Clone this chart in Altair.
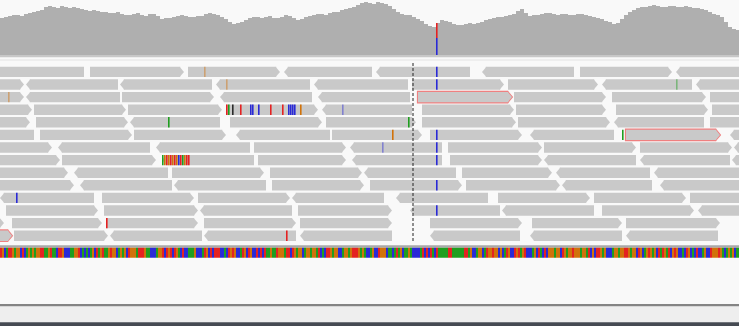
import altair as alt
import pandas as pd

# Genomic window (bp relative to the locus start) spread over the track width
window = [0, 369.5]
marker_pos = 206.5          # dashed position marker

# Coverage depth, sampled every 2 bp
coverage_pos = list(range(0, 370, 2))
coverage_depth = [37, 38, 39, 40, 40, 39, 41, 42, 43, 44, 45, 48, 49, 48, 47, 49, 48, 47, 48, 47,
                  46, 45, 44, 45, 44, 43, 43, 42, 42, 43, 41, 40, 40, 41, 42, 40, 39, 41, 41, 39,
                  36, 37, 37, 38, 39, 40, 39, 38, 38, 39, 39, 41, 42, 41, 40, 38, 36, 33, 31, 32,
                  33, 35, 37, 38, 38, 37, 38, 39, 37, 37, 38, 40, 39, 37, 35, 36, 38, 39, 40, 41,
                  41, 40, 42, 43, 43, 45, 46, 47, 48, 50, 52, 53, 52, 51, 53, 52, 51, 49, 46, 43,
                  41, 40, 40, 38, 36, 34, 31, 29, 28, 32, 35, 34, 33, 31, 30, 30, 31, 32, 31, 32,
                  33, 35, 36, 37, 38, 38, 39, 40, 41, 44, 46, 42, 39, 40, 40, 41, 42, 42, 41, 40,
                  41, 41, 40, 40, 41, 41, 40, 39, 38, 37, 36, 34, 33, 31, 32, 36, 40, 43, 45, 47,
                  48, 48, 49, 50, 49, 48, 48, 49, 49, 48, 48, 49, 48, 47, 47, 46, 45, 43, 41, 40,
                  38, 33, 28, 26, 25]

# Allele counts at the variant site
snv_pos = 218
snv_bases = ["C", "T"]
snv_counts = [17, 15]

# Packed alignments: (start, end, strand) per pileup row
row_00 = [(-4, 42, "-"), (45, 92, "+"), (94, 140, "+"), (142, 186, "-"), (188, 235, "-"), (241, 287, "-"), (290, 336, "+"), (338, 384, "-")]
row_01 = [(-34, 12, "+"), (13, 59, "-"), (60, 106, "-"), (108, 155, "-"), (157, 204, "-"), (206, 252, "+"), (254, 299, "+"), (301, 346, "-"), (348, 394, "-")]
row_02 = [(-34, 12, "+"), (13, 60, "-"), (61, 107, "+"), (110, 156, "-"), (159, 205, "-"), (209, 256, "+"), (257, 303, "+"), (306, 353, "+"), (355, 401, "+")]
row_03 = [(-30, 16, "+"), (17, 63, "+"), (64, 111, "+"), (113, 159, "+"), (161, 206, "-"), (211, 257, "+"), (258, 303, "+"), (308, 354, "+"), (356, 402, "+")]
row_04 = [(-32, 15, "+"), (18, 64, "+"), (65, 110, "-"), (115, 161, "+"), (163, 208, "+"), (211, 258, "+"), (259, 305, "+"), (307, 352, "-"), (355, 401, "+")]
row_05 = [(-29, 17, "-"), (20, 66, "+"), (67, 113, "+"), (118, 165, "-"), (166, 211, "+"), (215, 261, "+"), (265, 307, "-"), (313, 360, "+"), (365, 411, "-")]
row_06 = [(-20, 26, "+"), (29, 75, "-"), (78, 125, "-"), (127, 173, "+"), (175, 221, "-"), (224, 271, "+"), (272, 318, "+"), (320, 366, "+"), (367, 413, "-")]
row_07 = [(-16, 30, "+"), (31, 78, "+"), (81, 127, "-"), (129, 173, "+"), (176, 221, "-"), (225, 271, "+"), (272, 318, "-"), (320, 365, "-"), (366, 412, "-")]
row_08 = [(-12, 34, "+"), (37, 84, "-"), (86, 132, "+"), (135, 181, "+"), (182, 228, "-"), (231, 276, "+"), (278, 325, "-"), (327, 373, "-")]
row_09 = [(-9, 37, "+"), (40, 86, "-"), (87, 133, "-"), (136, 182, "+"), (185, 231, "+"), (233, 280, "+"), (281, 326, "-"), (330, 376, "-")]
row_10 = [(0, 47, "-"), (51, 97, "+"), (99, 145, "+"), (146, 192, "-"), (198, 244, "-"), (249, 295, "+"), (297, 343, "+"), (345, 391, "+")]
row_11 = [(3, 49, "+"), (52, 99, "+"), (100, 146, "-"), (149, 196, "+"), (205, 250, "-"), (251, 297, "-"), (301, 347, "+"), (349, 395, "-")]
row_12 = [(-44, 2, "+"), (6, 51, "+"), (53, 99, "+"), (102, 148, "+"), (150, 196, "+"), (215, 261, "+"), (266, 311, "+"), (313, 360, "+")]
row_13 = [(-40, 6, "+"), (7, 54, "+"), (55, 101, "-"), (102, 148, "-"), (150, 196, "-"), (215, 260, "-"), (265, 311, "-"), (313, 359, "-")]
pileup = [row_00, row_01, row_02, row_03, row_04, row_05, row_06, row_07,
          row_08, row_09, row_10, row_11, row_12, row_13]

# Reads flagged with an outline (row, start)
flagged_reads = [(2, 209), (5, 313), (13, -40)]

# Mismatching bases: row, position, base, low quality
mm_row = [0, 0, 1, 1, 1, 2,
          3, 3, 3, 3, 3, 3, 3, 3, 3, 3, 3, 3, 3, 3, 3,
          4, 4, 5, 5, 5, 6, 6,
          7, 7, 7, 7, 7, 7, 7, 7, 7, 7, 7, 7, 7, 7, 7,
          9, 10, 11, 12, 13]
mm_pos = [102, 218, 113, 218, 338, 4,
          113, 114, 116, 120, 125, 126, 129, 135, 141, 144, 145, 146, 147, 150, 171,
          84, 204, 196, 218, 311, 191, 218,
          81, 82, 83, 84, 85, 86, 87, 88, 89, 90, 91, 92, 93, 94, 218,
          218, 8, 218, 53, 143]
mm_base = ["G", "C", "G", "C", "A", "G",
           "T", "A", "N", "T", "C", "C", "C", "T", "T", "C", "C", "C", "C", "G", "C",
           "A", "A", "G", "C", "A", "C", "C",
           "A", "G", "T", "G", "T", "G", "T", "G", "C", "T", "A", "G", "T", "T", "C",
           "C", "C", "C", "T", "T"]
mm_lowq = [1, 0, 1, 0, 1, 1,
           0, 0, 0, 0, 0, 0, 0, 0, 0, 0, 0, 0, 0, 0, 1,
           0, 0, 0, 0, 0, 1, 0,
           0, 0, 0, 0, 0, 0, 0, 0, 0, 0, 0, 0, 0, 0, 0,
           0, 0, 0, 0, 0]

# Reference sequence across the window
reference = ("TGCATTGAGGCTCAGAGAGGTTAAGTAACTTGCCCAAGGTCACACAGCTA"
             "GTAAGTGGCAGAGCTGGGATTTGAACCCAGGTCTGTCTGACTCCAAAGCC"
             "CATGCTCTTTCCACTGTGCCATGCTGCCTCTCTAAGAATGGGATTCTGAG"
             "GCAGGAGGATCACTTGAGGCCAGGAGTTTGAGACCAGCCTGGGCAACATA"
             "GCAAGACCCCATCTCTACTAAAAATTAAAAAATTAGCCAGGCATGGTGGC"
             "GCATGCCTGTAGTCCCAGCTACTCGGGAGGCTGAGGTGGGAGGATCGCTT"
             "GAGCCCAGGAGGTTGAGGCTGCAGTGAGCTATGATCGTGCCACTGCACTC"
             "CAGCCTGGGTGACAGAGCAA")

BASE_COLORS = {"A": "#1f9e1f", "C": "#2a2ad6", "G": "#d1720a", "T": "#e42222", "N": "#2b2b2b"}
READ_GREY = "#c9c9c9"
COVER_GREY = "#afafaf"
OUTLINE_RED = "#ef8080"
TIP = 2.2          # arrowhead length in bp
FILL = 0.825       # share of the row pitch covered by a read
W, H = 739, 326

RIGHT_TIP = "M-0.42,-1L0.42,0L-0.42,1Z"
LEFT_TIP = "M0.42,-1L-0.42,0L0.42,1Z"

# ---------- tables ----------
recs = []
for r, row in enumerate(pileup):
    for s, e, st in row:
        fwd = st == "+"
        recs.append({
            "row": r, "start": s, "end": e, "strand": st,
            "flag": (r, s) in flagged_reads,
            "bx": s if fwd else s + TIP - 0.3,
            "bx2": e - TIP + 0.3 if fwd else e,
            "tip": e - TIP / 2 if fwd else s + TIP / 2,
            "y": r, "y2": r + FILL, "ym": r + FILL / 2,
        })
reads = pd.DataFrame(recs)
flagged = reads[reads["flag"]].copy()
flagged["ox"] = flagged["bx"] - flagged["strand"].map({"+": 0.55, "-": 0.0})
flagged["ox2"] = flagged["bx2"] + flagged["strand"].map({"+": 0.0, "-": 0.55})
flagged["otip"] = flagged["tip"] + flagged["strand"].map({"+": 0.37, "-": -0.37})
flagged["oy"] = flagged["y"] - 0.09
flagged["oy2"] = flagged["y2"] + 0.09

cov = pd.DataFrame({"pos": coverage_pos + [370], "depth": coverage_depth + [coverage_depth[-1]]})

snv_lo, snv_hi, acc = [], [], 0
for c in snv_counts:
    snv_lo.append(acc)
    acc += c
    snv_hi.append(acc)
snv = pd.DataFrame({"pos": snv_pos, "x2": snv_pos + 0.8, "base": snv_bases,
                    "lo": snv_lo, "hi": snv_hi,
                    "color": [BASE_COLORS[b] for b in snv_bases]})

mm = pd.DataFrame({"row": mm_row, "pos": mm_pos, "base": mm_base, "lowq": mm_lowq})
mm["x2"] = mm["pos"] + 0.8
mm["y2"] = mm["row"] + FILL
mm["color"] = mm["base"].map(BASE_COLORS)
mm["alpha"] = mm["lowq"].map({0: 1.0, 1: 0.45})

ref = pd.DataFrame({"pos": range(len(reference)), "base": list(reference)})
ref["x2"] = ref["pos"] + 1
ref["color"] = ref["base"].map(BASE_COLORS)

marker = pd.DataFrame({"pos": [marker_pos]})
one = pd.DataFrame({"k": [0]})

# ---------- scales ----------
X = alt.Scale(domain=window, nice=False, zero=False)
ROWS = alt.Scale(domain=[0, 14], range=[66.7, 243.1], nice=False, zero=False)
COV = alt.Scale(domain=[0, 55], range=[55, 0], nice=False, zero=False)
TIPS = alt.Scale(domain=["+", "-"], range=[RIGHT_TIP, LEFT_TIP])


def band(y0, y1, color):
    return alt.Chart(one).mark_rect(color=color).encode(
        x=alt.value(0), x2=alt.value(W), y=alt.value(y0), y2=alt.value(y1))


coverage = alt.Chart(cov).mark_area(interpolate="step-after", color=COVER_GREY, clip=True).encode(
    x=alt.X("pos:Q", scale=X, axis=None),
    y=alt.Y("depth:Q", scale=COV, axis=None))

snv_bar = alt.Chart(snv).mark_rect().encode(
    x=alt.X("pos:Q", scale=X, axis=None), x2="x2:Q",
    y=alt.Y("lo:Q", scale=COV, axis=None), y2="hi:Q",
    color=alt.Color("color:N", scale=None))

outline_body = alt.Chart(flagged).mark_rect(color=OUTLINE_RED, clip=True).encode(
    x=alt.X("ox:Q", scale=X, axis=None), x2="ox2:Q",
    y=alt.Y("oy:Q", scale=ROWS, axis=None), y2="oy2:Q")

outline_tip = alt.Chart(flagged).mark_point(filled=True, size=162, opacity=1, strokeWidth=0,
                                             color=OUTLINE_RED, clip=True).encode(
    x=alt.X("otip:Q", scale=X, axis=None),
    y=alt.Y("ym:Q", scale=ROWS, axis=None),
    shape=alt.Shape("strand:N", scale=TIPS, legend=None))

read_body = alt.Chart(reads).mark_rect(color=READ_GREY, clip=True).encode(
    x=alt.X("bx:Q", scale=X, axis=None), x2="bx2:Q",
    y=alt.Y("y:Q", scale=ROWS, axis=None), y2="y2:Q")

read_tip = alt.Chart(reads).mark_point(filled=True, size=108, opacity=1, strokeWidth=0,
                                       color=READ_GREY, clip=True).encode(
    x=alt.X("tip:Q", scale=X, axis=None),
    y=alt.Y("ym:Q", scale=ROWS, axis=None),
    shape=alt.Shape("strand:N", scale=TIPS, legend=None))

mismatches = alt.Chart(mm).mark_rect().encode(
    x=alt.X("pos:Q", scale=X, axis=None), x2="x2:Q",
    y=alt.Y("row:Q", scale=ROWS, axis=None), y2="y2:Q",
    color=alt.Color("color:N", scale=None),
    opacity=alt.Opacity("alpha:Q", scale=None))

marker_line = alt.Chart(marker).mark_rule(color="#222222", strokeDash=[3, 2], strokeWidth=1).encode(
    x=alt.X("pos:Q", scale=X, axis=None), y=alt.value(63), y2=alt.value(242))

sequence = alt.Chart(ref).mark_rect(clip=True).encode(
    x=alt.X("pos:Q", scale=X, axis=None), x2="x2:Q",
    y=alt.value(247.7), y2=alt.value(257.7),
    color=alt.Color("color:N", scale=None))

chart = alt.layer(
    band(55, 57.3, "#c7c7c7"),
    band(59.6, 60.4, "#e3e3e3"),
    coverage,
    snv_bar,
    outline_body,
    outline_tip,
    read_body,
    read_tip,
    mismatches,
    marker_line,
    band(245.3, 247.7, "#a9a9a9"),
    sequence,
    band(304, 306.6, "#848484"),
    band(306.6, 322.2, "#eeeeee"),
    band(322.2, 326, "#454a52"),
).resolve_scale(
    y="independent"
).properties(
    width=W, height=H, padding=0,
    autosize=alt.AutoSizeParams(type="none"),
).configure(
    background="#f9f9f9"
).configure_view(stroke=None)

chart.save("out.html", embed_options={"renderer": "svg", "actions": False})
